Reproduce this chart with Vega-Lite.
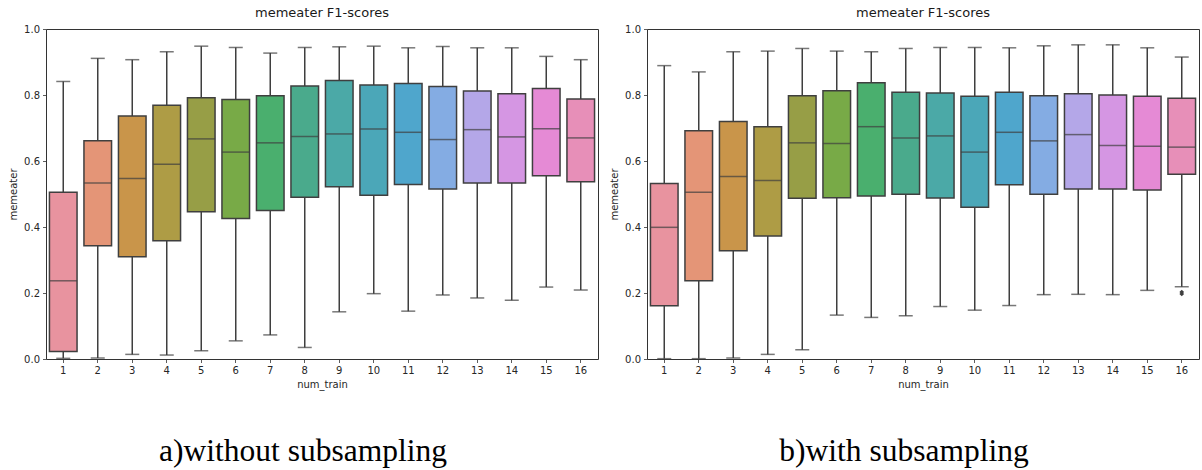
{
  "$schema": "https://vega.github.io/schema/vega-lite/v6.json",
  "background": "white",
  "padding": {"left": 8, "top": 6, "right": 1, "bottom": 0},
  "config": {
    "font": "DejaVu Sans",
    "view": {"stroke": "#333333", "strokeWidth": 1},
    "title": {"font": "DejaVu Sans", "fontSize": 13, "fontWeight": "normal", "color": "#1a1a1a", "offset": 4},
    "axis": {
      "domain": false,
      "grid": false,
      "tickSize": 3.5,
      "tickWidth": 0.8,
      "tickColor": "#333333",
      "labelFont": "DejaVu Sans",
      "labelFontSize": 10,
      "labelColor": "#262626",
      "labelPadding": 3,
      "titleFont": "DejaVu Sans",
      "titleFontSize": 10,
      "titleFontWeight": "normal",
      "titleColor": "#262626"
    }
  },
  "datasets": {
    "without": [
      {"num_train": 1, "lower": 0.002, "q1": 0.023, "median": 0.237, "q3": 0.505, "upper": 0.841},
      {"num_train": 2, "lower": 0.003, "q1": 0.343, "median": 0.533, "q3": 0.661, "upper": 0.911},
      {"num_train": 3, "lower": 0.014, "q1": 0.310, "median": 0.547, "q3": 0.736, "upper": 0.907},
      {"num_train": 4, "lower": 0.012, "q1": 0.358, "median": 0.590, "q3": 0.769, "upper": 0.931},
      {"num_train": 5, "lower": 0.025, "q1": 0.446, "median": 0.667, "q3": 0.792, "upper": 0.948},
      {"num_train": 6, "lower": 0.055, "q1": 0.426, "median": 0.627, "q3": 0.786, "upper": 0.944},
      {"num_train": 7, "lower": 0.073, "q1": 0.450, "median": 0.655, "q3": 0.798, "upper": 0.927},
      {"num_train": 8, "lower": 0.035, "q1": 0.490, "median": 0.674, "q3": 0.827, "upper": 0.944},
      {"num_train": 9, "lower": 0.143, "q1": 0.522, "median": 0.682, "q3": 0.844, "upper": 0.946},
      {"num_train": 10, "lower": 0.198, "q1": 0.496, "median": 0.697, "q3": 0.830, "upper": 0.948},
      {"num_train": 11, "lower": 0.145, "q1": 0.529, "median": 0.687, "q3": 0.835, "upper": 0.943},
      {"num_train": 12, "lower": 0.194, "q1": 0.515, "median": 0.665, "q3": 0.826, "upper": 0.947},
      {"num_train": 13, "lower": 0.185, "q1": 0.533, "median": 0.695, "q3": 0.812, "upper": 0.943},
      {"num_train": 14, "lower": 0.178, "q1": 0.533, "median": 0.673, "q3": 0.804, "upper": 0.943},
      {"num_train": 15, "lower": 0.218, "q1": 0.555, "median": 0.698, "q3": 0.820, "upper": 0.917},
      {"num_train": 16, "lower": 0.209, "q1": 0.537, "median": 0.670, "q3": 0.788, "upper": 0.907}
    ],
    "with": [
      {"num_train": 1, "lower": 0.001, "q1": 0.161, "median": 0.399, "q3": 0.532, "upper": 0.889},
      {"num_train": 2, "lower": 0.001, "q1": 0.237, "median": 0.505, "q3": 0.692, "upper": 0.870},
      {"num_train": 3, "lower": 0.003, "q1": 0.328, "median": 0.553, "q3": 0.720, "upper": 0.931},
      {"num_train": 4, "lower": 0.014, "q1": 0.373, "median": 0.541, "q3": 0.704, "upper": 0.933},
      {"num_train": 5, "lower": 0.028, "q1": 0.487, "median": 0.655, "q3": 0.798, "upper": 0.941},
      {"num_train": 6, "lower": 0.133, "q1": 0.489, "median": 0.653, "q3": 0.813, "upper": 0.933},
      {"num_train": 7, "lower": 0.126, "q1": 0.494, "median": 0.704, "q3": 0.837, "upper": 0.931},
      {"num_train": 8, "lower": 0.131, "q1": 0.499, "median": 0.670, "q3": 0.808, "upper": 0.941},
      {"num_train": 9, "lower": 0.159, "q1": 0.488, "median": 0.676, "q3": 0.806, "upper": 0.944},
      {"num_train": 10, "lower": 0.148, "q1": 0.460, "median": 0.627, "q3": 0.796, "upper": 0.944},
      {"num_train": 11, "lower": 0.162, "q1": 0.528, "median": 0.687, "q3": 0.808, "upper": 0.943},
      {"num_train": 12, "lower": 0.195, "q1": 0.499, "median": 0.661, "q3": 0.798, "upper": 0.949},
      {"num_train": 13, "lower": 0.196, "q1": 0.515, "median": 0.680, "q3": 0.804, "upper": 0.952},
      {"num_train": 14, "lower": 0.195, "q1": 0.515, "median": 0.647, "q3": 0.800, "upper": 0.952},
      {"num_train": 15, "lower": 0.208, "q1": 0.512, "median": 0.645, "q3": 0.796, "upper": 0.943},
      {"num_train": 16, "lower": 0.219, "q1": 0.560, "median": 0.642, "q3": 0.790, "upper": 0.915}
    ],
    "with_outliers": [
      {"num_train": 16, "value": 0.203},
      {"num_train": 16, "value": 0.197}
    ],
    "captions": [
      {"panel": "a", "caption": "a)without subsampling"},
      {"panel": "b", "caption": "b)with subsampling"}
    ]
  },
  "vconcat": [
    {
      "hconcat": [
        {
          "width": 552,
          "height": 330,
          "title": "memeater F1-scores",
          "data": {"name": "without"},
          "encoding": {
            "x": {
              "field": "num_train",
              "type": "ordinal",
              "title": "num_train",
              "scale": {"paddingInner": 0.2, "paddingOuter": 0.1},
              "axis": {"labelAngle": 0, "titlePadding": 4}
            }
          },
          "layer": [
            {
              "mark": {"type": "rule", "color": "#3f3f3f", "strokeWidth": 1.5},
              "encoding": {
                "y": {"field": "lower", "type": "quantitative", "title": "memeater", "scale": {"domain": [0, 1], "nice": false}, "axis": {"values": [0, 0.2, 0.4, 0.6, 0.8, 1.0], "format": ".1f", "titlePadding": 5}},
                "y2": {"field": "upper"}
              }
            },
            {
              "mark": {"type": "tick", "color": "#3f3f3f", "size": 14, "thickness": 1.5},
              "encoding": {"y": {"field": "lower", "type": "quantitative"}}
            },
            {
              "mark": {"type": "tick", "color": "#3f3f3f", "size": 14, "thickness": 1.5},
              "encoding": {"y": {"field": "upper", "type": "quantitative"}}
            },
            {
              "mark": {"type": "bar", "stroke": "#3f3f3f", "strokeWidth": 1.5, "opacity": 1},
              "encoding": {
                "y": {"field": "q1", "type": "quantitative"},
                "y2": {"field": "q3"},
                "color": {
                  "field": "num_train",
                  "type": "ordinal",
                  "legend": null,
                  "scale": {"range": ["#e8939f", "#e49577", "#c9954a", "#ae9c45", "#979e46", "#78aa47", "#4aaf6e", "#4aaa8c", "#4ba9a7", "#4ba7b8", "#4fa6cc", "#84ace3", "#b4a7e8", "#d596e3", "#e58ad5", "#e78fb8"]}
                }
              }
            },
            {
              "mark": {"type": "tick", "color": "#3f3f3f", "size": 27.6, "thickness": 1.5},
              "encoding": {"y": {"field": "median", "type": "quantitative"}}
            }
          ]
        },
        {
          "width": 552,
          "height": 330,
          "title": "memeater F1-scores",
          "encoding": {
            "x": {
              "field": "num_train",
              "type": "ordinal",
              "title": "num_train",
              "scale": {"paddingInner": 0.2, "paddingOuter": 0.1},
              "axis": {"labelAngle": 0, "titlePadding": 4}
            }
          },
          "layer": [
            {
              "data": {"name": "with"},
              "mark": {"type": "rule", "color": "#3f3f3f", "strokeWidth": 1.5},
              "encoding": {
                "y": {"field": "lower", "type": "quantitative", "title": "memeater", "scale": {"domain": [0, 1], "nice": false}, "axis": {"values": [0, 0.2, 0.4, 0.6, 0.8, 1.0], "format": ".1f", "titlePadding": 5}},
                "y2": {"field": "upper"}
              }
            },
            {
              "data": {"name": "with"},
              "mark": {"type": "tick", "color": "#3f3f3f", "size": 14, "thickness": 1.5},
              "encoding": {"y": {"field": "lower", "type": "quantitative"}}
            },
            {
              "data": {"name": "with"},
              "mark": {"type": "tick", "color": "#3f3f3f", "size": 14, "thickness": 1.5},
              "encoding": {"y": {"field": "upper", "type": "quantitative"}}
            },
            {
              "data": {"name": "with"},
              "mark": {"type": "bar", "stroke": "#3f3f3f", "strokeWidth": 1.5, "opacity": 1},
              "encoding": {
                "y": {"field": "q1", "type": "quantitative"},
                "y2": {"field": "q3"},
                "color": {
                  "field": "num_train",
                  "type": "ordinal",
                  "legend": null,
                  "scale": {"range": ["#e8939f", "#e49577", "#c9954a", "#ae9c45", "#979e46", "#78aa47", "#4aaf6e", "#4aaa8c", "#4ba9a7", "#4ba7b8", "#4fa6cc", "#84ace3", "#b4a7e8", "#d596e3", "#e58ad5", "#e78fb8"]}
                }
              }
            },
            {
              "data": {"name": "with"},
              "mark": {"type": "tick", "color": "#3f3f3f", "size": 27.6, "thickness": 1.5},
              "encoding": {"y": {"field": "median", "type": "quantitative"}}
            },
            {
              "data": {"name": "with_outliers"},
              "mark": {"type": "point", "shape": "diamond", "filled": true, "color": "#3f3f3f", "size": 22, "opacity": 1},
              "encoding": {"y": {"field": "value", "type": "quantitative"}}
            }
          ]
        }
      ],
      "spacing": 49,
      "bounds": "flush"
    },
    {
      "hconcat": [
        {
          "width": 552,
          "height": 40,
          "view": {"stroke": null},
          "data": {"name": "captions"},
          "transform": [{"filter": "datum.panel === 'a'"}],
          "mark": {"type": "text", "font": "Liberation Serif", "fontSize": 31.5, "color": "#000000", "dx": -19, "baseline": "middle"},
          "encoding": {"text": {"field": "caption"}}
        },
        {
          "width": 552,
          "height": 40,
          "view": {"stroke": null},
          "data": {"name": "captions"},
          "transform": [{"filter": "datum.panel === 'b'"}],
          "mark": {"type": "text", "font": "Liberation Serif", "fontSize": 31.5, "color": "#000000", "dx": -19, "baseline": "middle"},
          "encoding": {"text": {"field": "caption"}}
        }
      ],
      "spacing": 49,
      "bounds": "flush"
    }
  ],
  "spacing": 42
}
